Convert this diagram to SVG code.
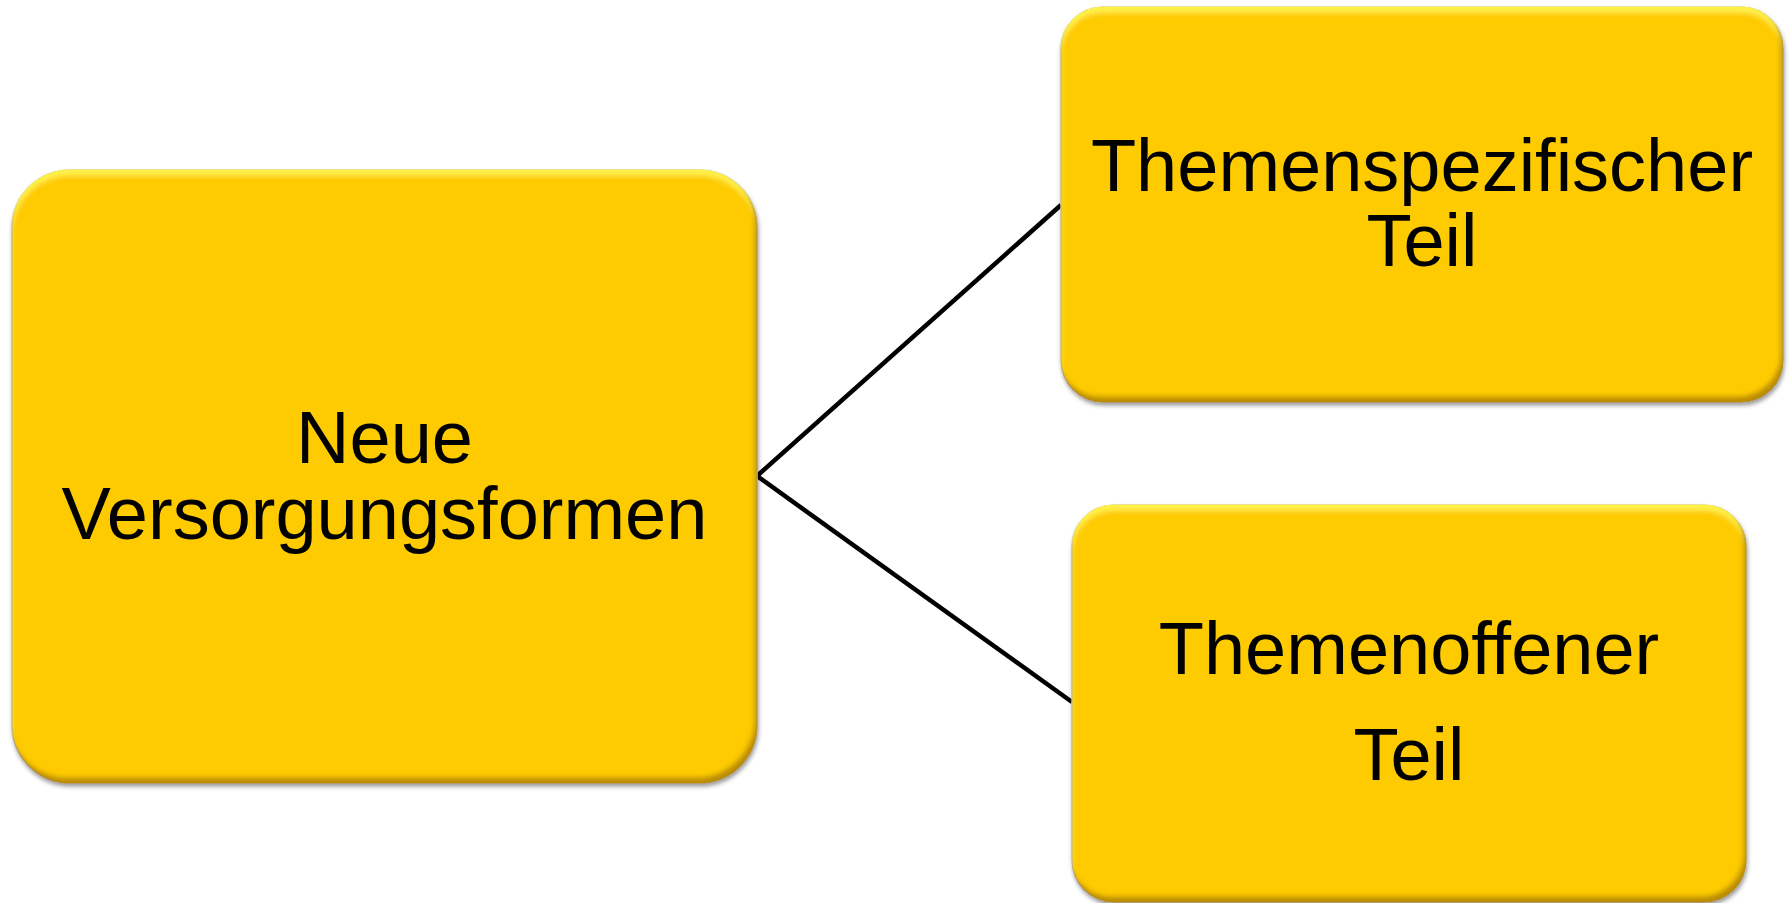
<svg xmlns="http://www.w3.org/2000/svg" width="1791" height="903" viewBox="0 0 1791 903">
<style>
.box{fill:#FECB00;stroke:#9C9C9C;stroke-width:1.2;filter:url(#bevel)}
.lbl{font-family:"Liberation Sans",Arial,sans-serif;font-size:74px;fill:#000;text-anchor:middle}
.conn{stroke:#000;stroke-width:4.5;fill:none}
</style>
<defs>
<filter id="bevel" x="-3%" y="-3%" width="106%" height="108%">
 <feGaussianBlur in="SourceAlpha" stdDeviation="2.5" result="b"/>
 <feOffset in="b" dx="0" dy="6" result="bd"/>
 <feComposite in="SourceAlpha" in2="bd" operator="out" result="topE"/>
 <feFlood flood-color="#FFF24A" result="hc"/>
 <feComposite in="hc" in2="topE" operator="in" result="hi"/>
 <feOffset in="b" dx="-3" dy="-6" result="bu"/>
 <feComposite in="SourceAlpha" in2="bu" operator="out" result="botE"/>
 <feFlood flood-color="#B98B00" result="dc"/>
 <feComposite in="dc" in2="botE" operator="in" result="lo"/>
 <feGaussianBlur in="SourceAlpha" stdDeviation="2" result="sb"/>
 <feOffset in="sb" dx="1" dy="3" result="so"/>
 <feFlood flood-color="#000" flood-opacity="0.4"/>
 <feComposite in2="so" operator="in" result="shadow"/>
 <feMerge>
  <feMergeNode in="shadow"/>
  <feMergeNode in="SourceGraphic"/>
  <feMergeNode in="hi"/>
  <feMergeNode in="lo"/>
 </feMerge>
</filter>
</defs>
<rect width="1791" height="903" fill="#FFFFFF"/>
<g id="connectors">
 <line class="conn" x1="757" y1="476" x2="1061" y2="205"/>
 <line class="conn" x1="757" y1="476" x2="1072" y2="702"/>
</g>
<g id="node-neue">
 <rect class="box" x="12" y="170" width="745" height="613" rx="58" ry="58"/>
 <text class="lbl" x="384.5" y="463">Neue</text>
 <text class="lbl" x="384.5" y="539">Versorgungsformen</text>
</g>
<g id="node-themenspezifisch">
 <rect class="box" x="1061" y="7" width="722" height="395" rx="42" ry="42"/>
 <text class="lbl" x="1422" y="191">Themenspezifischer</text>
 <text class="lbl" x="1422" y="266">Teil</text>
</g>
<g id="node-themenoffen">
 <rect class="box" x="1072" y="505" width="674" height="397" rx="42" ry="42"/>
 <text class="lbl" x="1409" y="674">Themenoffener</text>
 <text class="lbl" x="1409" y="780">Teil</text>
</g>
</svg>
